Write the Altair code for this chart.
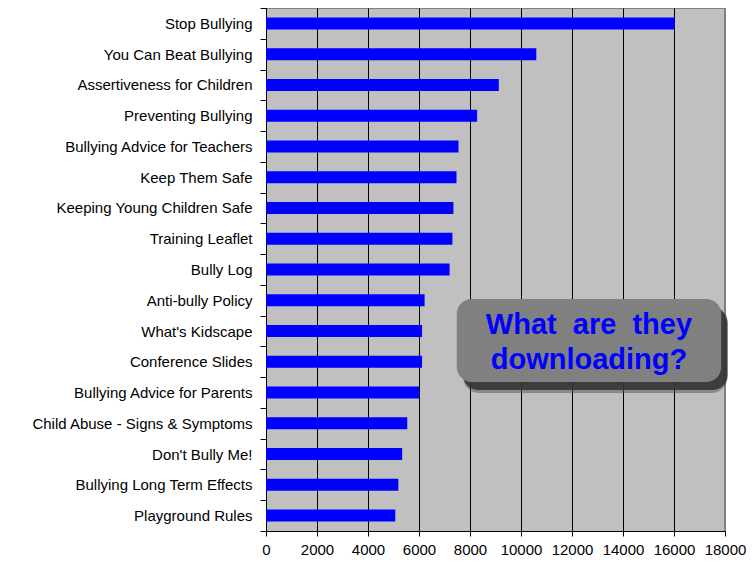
import altair as alt
import pandas as pd

titles = [
    "Stop Bullying", "You Can Beat Bullying", "Assertiveness for Children",
    "Preventing Bullying", "Bullying Advice for Teachers", "Keep Them Safe",
    "Keeping Young Children Safe", "Training Leaflet", "Bully Log",
    "Anti-bully Policy", "What's Kidscape", "Conference Slides",
    "Bullying Advice for Parents", "Child Abuse - Signs & Symptoms",
    "Don't Bully Me!", "Bullying Long Term Effects", "Playground Rules",
]
downloads = [16030, 10600, 9130, 8280, 7550, 7470, 7350, 7310, 7200,
             6220, 6120, 6120, 6000, 5540, 5340, 5190, 5070]
x_ticks = list(range(0, 18001, 2000))
callout_lines = ["What\u00a0\u00a0are\u00a0\u00a0they", "downloading?"]

df = pd.DataFrame({"title": titles, "downloads": downloads})
FONT = "Liberation Sans"

xscale = alt.Scale(domain=[0, 18000], nice=False, zero=True)

bars = alt.Chart(df).mark_bar(color="#0000FF", size=12).encode(
    x=alt.X("downloads:Q", scale=xscale,
            axis=alt.Axis(values=x_ticks, grid=True, gridColor="black", gridWidth=1,
                          domainColor="black", tickColor="black", tickSize=5,
                          labelPadding=6, labelFont=FONT, labelFontSize=15,
                          labelColor="black", title=None, format="d",
                          labelFlush=False)),
    y=alt.Y("title:N", sort=titles,
            scale=alt.Scale(paddingInner=0, paddingOuter=0),
            axis=alt.Axis(title=None, tickBand="extent", domainColor="black",
                          tickColor="black", tickSize=6, labelPadding=8,
                          labelFont=FONT, labelFontSize=15, labelColor="black",
                          labelLimit=400, grid=False)),
)

right_border = alt.Chart(df).mark_rule(color="#808080", strokeWidth=1).encode(
    x=alt.datum(18000, scale=xscale)
)

shadow_df = pd.DataFrame({"a": [7730], "b": [18100]})
shadow_outer = alt.Chart(shadow_df).mark_rect(color="#505050", opacity=0.5, cornerRadius=16).encode(
    x="a:Q", x2="b:Q", y=alt.value(298), y2=alt.value(385)
)
shadow = alt.Chart(shadow_df).mark_rect(color="#303030", opacity=0.85, cornerRadius=15).encode(
    x="a:Q", x2="b:Q", y=alt.value(300), y2=alt.value(382)
)
box_df = pd.DataFrame({"a": [7480], "b": [17850]})
box = alt.Chart(box_df).mark_rect(color="#808080", cornerRadius=15).encode(
    x="a:Q", x2="b:Q", y=alt.value(291), y2=alt.value(374)
)
mid_df = pd.DataFrame({"m": [12665], "t1": [callout_lines[0]], "t2": [callout_lines[1]]})
text1 = alt.Chart(mid_df).mark_text(font=FONT, fontSize=29, fontWeight="bold",
                                    color="#0000FF", baseline="alphabetic", align="center").encode(
    x="m:Q", y=alt.value(326), text="t1:N"
)
text2 = alt.Chart(mid_df).mark_text(font=FONT, fontSize=29, fontWeight="bold",
                                    color="#0000FF", baseline="alphabetic", align="center").encode(
    x="m:Q", y=alt.value(361), text="t2:N"
)

chart = alt.layer(bars, right_border, shadow_outer, shadow, box, text1, text2).properties(
    width=459, height=523,
    autosize=alt.AutoSizeParams(type="none"),
    padding={"left": 258, "top": 0, "right": 21, "bottom": 25},
).configure_view(fill="#C0C0C0", stroke="#808080", strokeWidth=1)

chart.save("out.html", embed_options={"renderer": "svg", "actions": False})
